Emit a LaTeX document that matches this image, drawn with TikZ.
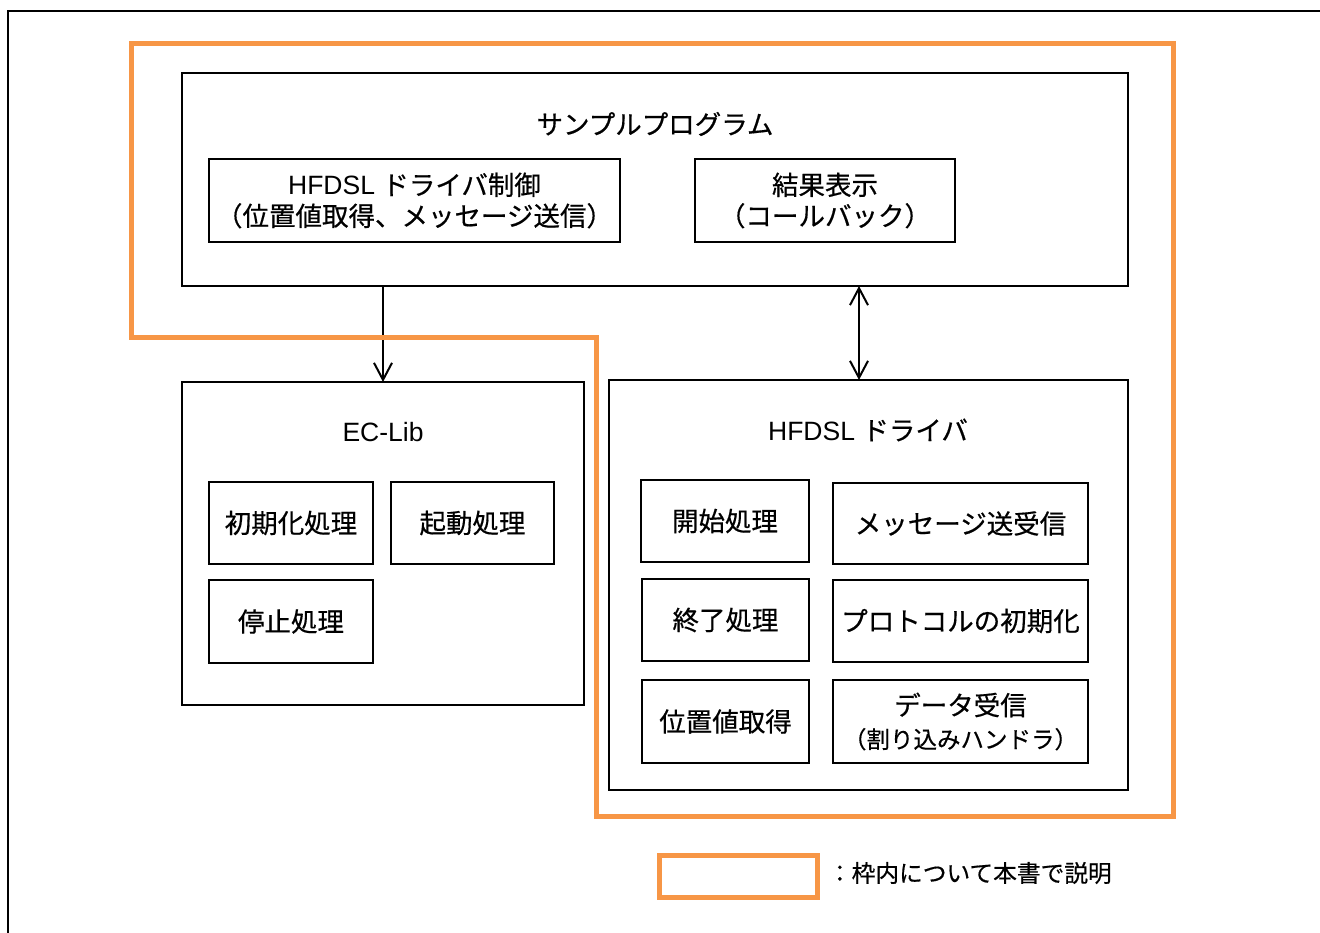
\documentclass[tikz,border=0pt]{standalone}
\usepackage{fontspec}
\setmainfont{Liberation Sans}
\newfontfamily\jp[FakeBold=0.5]{Noto Sans CJK JP}
\usetikzlibrary{arrows.meta}
\definecolor{frameorange}{HTML}{F79646}
\begin{document}
\begin{tikzpicture}[x=1pt,y=-1pt,
  every node/.style={font=\fontsize{26.5}{31}\selectfont, inner sep=0pt, outer sep=0pt},
  box/.style={draw=black, line width=2pt, align=center},
  txt/.style={align=center},
  arr/.style={line width=2pt, -{Straight Barb[length=17pt,width=18pt,line width=2pt]}},
  darr/.style={line width=2pt, {Straight Barb[length=17pt,width=18pt,line width=2pt]}-{Straight Barb[length=17pt,width=18pt,line width=2pt]}},
  orange/.style={draw=frameorange, line width=5pt}
]
\useasboundingbox (0,0) rectangle (1320,933);
% outer frame (cut off at right and bottom)
\draw[line width=2.5pt] (8,933) -- (8,11) -- (1320,11);

% Sample program
\node[box, minimum width=946, minimum height=213] (samp) at (655,179.5) {};
\node[txt] (samptitle) at (655,124) {\jp サンプルプログラム};
\node[box, minimum width=411, minimum height=83] (ctl) at (414.5,200.5) {HFDSL {\jp ドライバ制御}\\{\jp （位置値取得、メッセージ送信）}};
\node[box, minimum width=260, minimum height=83] (res) at (825,200.5) {\jp 結果表示\\\jp （コールバック）};

% EC-Lib
\node[box, minimum width=402, minimum height=323] (ec) at (383,543.5) {};
\node[txt] (ectitle) at (383,432) {EC-Lib};
\node[box, minimum width=164, minimum height=82] (init) at (291,523) {\jp 初期化処理};
\node[box, minimum width=163, minimum height=82] (boot) at (472.5,523) {\jp 起動処理};
\node[box, minimum width=164, minimum height=83] (stop) at (291,621.5) {\jp 停止処理};

% HFDSL driver
\node[box, minimum width=519, minimum height=410] (drv) at (868.5,585) {};
\node[txt] (drvtitle) at (868,430) {HFDSL {\jp ドライバ}};
\node[box, minimum width=168, minimum height=82] (start) at (725,521) {\jp 開始処理};
\node[box, minimum width=255, minimum height=81] (msg) at (960.5,523.5) {\jp メッセージ送受信};
\node[box, minimum width=167, minimum height=82] (fin) at (725.5,620) {\jp 終了処理};
\node[box, minimum width=255, minimum height=82] (proto) at (960.5,621) {\jp プロトコルの初期化};
\node[box, minimum width=167, minimum height=83] (pos) at (725.5,721.5) {\jp 位置値取得};
\node[box, minimum width=255, minimum height=83] (data) at (960.5,721.5) {\jp データ受信\\[2pt]{\fontsize{23.5}{27}\selectfont\jp （割り込みハンドラ）}};

% connectors
\draw[arr] (samp.south -| ec.north) -- (ec.north);
\coordinate (ax) at (859,300);
\draw[darr] (samp.south -| ax) -- (drv.north -| ax);

% orange boundary
\draw[orange] (131,44) -- (1173,44) -- (1173,816) -- (596,816) -- (596,338) -- (131,338) -- cycle;

% legend
\node[draw=frameorange, line width=5pt, minimum width=158, minimum height=42] (leg) at (738.5,876.5) {};
\node[anchor=west, font=\fontsize{23.7}{28}\selectfont] (legtxt) at (828,873) {\jp ：枠内について本書で説明};
\end{tikzpicture}
\end{document}
